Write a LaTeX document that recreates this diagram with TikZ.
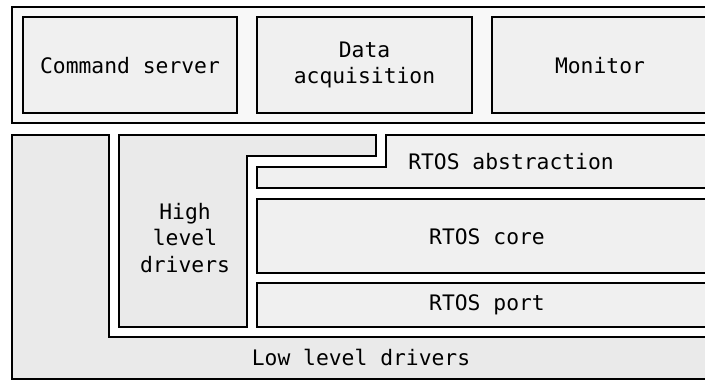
\documentclass[tikz,border=0pt]{standalone}
\usepackage{fontspec}
\setmonofont{DejaVu Sans Mono}
\definecolor{appbg}{HTML}{F8F8F8}
\definecolor{boxbg}{HTML}{F0F0F0}
\definecolor{drvbg}{HTML}{EAEAEA}
\begin{document}
\begin{tikzpicture}[x=0.75pt, y=-0.75pt, line width=1.5pt, line join=miter,
  lbl/.style={font=\ttfamily\fontsize{16}{20}\selectfont, align=center, inner sep=0pt}]
\useasboundingbox (0,0) rectangle (705,380);
\clip (0,0) rectangle (705,380);
\fill[white] (0,0) rectangle (705,380);
% application layer
\draw[fill=appbg] (12,7) rectangle (730,123);
\draw[fill=boxbg] (23,17) rectangle (237,113);
\draw[fill=boxbg] (257,17) rectangle (472,113);
\draw[fill=boxbg] (492,17) rectangle (720,113);
% low level drivers (L shape)
\draw[fill=drvbg] (12,135) -- (109,135) -- (109,337) -- (730,337) -- (730,378.5) -- (12,378.5) -- cycle;
% high level drivers
\draw[fill=drvbg] (119,135) -- (376,135) -- (376,156) -- (247,156) -- (247,327) -- (119,327) -- cycle;
% RTOS layers
\draw[fill=boxbg] (386,135) -- (720,135) -- (720,188) -- (257,188) -- (257,167) -- (386,167) -- cycle;
\draw[fill=boxbg] (257,199) rectangle (720,273);
\draw[fill=boxbg] (257,283) rectangle (720,327);
% labels
\node[lbl] (cmd) at (130,66) {Command server};
\node[lbl] (daq) at (364.5,65) {Data\\acquisition};
\node[lbl] (mon) at (600,66) {Monitor};
\node[lbl] (abs) at (511,162) {RTOS abstraction};
\node[lbl] (core) at (487,237) {RTOS core};
\node[lbl] (port) at (487,305) {RTOS port};
\node[lbl] (hld) at (185,238) {High\\level\\drivers};
\node[lbl] (lld) at (361,357) {Low level drivers};
\end{tikzpicture}
\end{document}
